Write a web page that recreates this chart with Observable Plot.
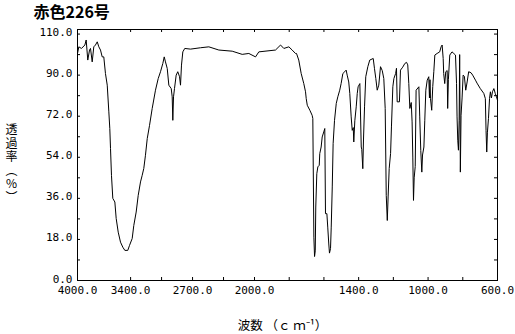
<!DOCTYPE html>
<html>
<head>
<meta charset="utf-8">
<script src="https://cdn.jsdelivr.net/npm/d3@7"></script>
<script src="https://cdn.jsdelivr.net/npm/@observablehq/plot@0.6"></script>
<style>
  html, body { margin: 0; padding: 0; background: #fff; }
  svg { display: block; }
</style>
</head>
<body>
<div id="chart"></div>
<script>
const title = "赤色226号";
const xTitle = "波数 （ｃ ｍ⁻¹）";
const yTitle = "透過率（%）";

const xTickValues = [4000, 3400, 2700, 2000, 1400, 1000, 600];
const xTickLabels = ["4000.0", "3400.0", "2700.0", "2000.0", "1400.0", "1000.0", "600.0"];
const xMinorTicks = [3400, 3050, 2700, 2350, 2000, 1800, 1600, 1400, 1200, 1000, 800];

const yTickValues = [0, 18, 36, 54, 72, 90, 108];
const yTickLabels = ["0.0", "18.0", "36.0", "54.0", "72.0", "90.0", "110.0"];
const yMinorTicks = [9, 18, 27, 36, 45, 54, 63, 72, 81, 90, 99, 108];

const wavenumber = [
  4000, 3985, 3955, 3917, 3902, 3884, 3864, 3853, 3834, 3816, 3797, 3777, 3759, 3740, 3721, 3703,
  3684, 3664, 3646, 3635, 3627, 3616, 3601, 3578, 3563, 3540, 3514, 3488, 3465, 3432, 3412, 3382,
  3364, 3337, 3314, 3288, 3269, 3251, 3232, 3212, 3186, 3156, 3119, 3088, 3062, 3036, 3020, 3006,
  2986, 2968, 2941, 2930, 2923, 2915, 2904, 2885, 2867, 2847, 2836, 2825, 2810, 2788, 2723, 2610,
  2516, 2403, 2252, 2139, 2064, 1994, 1975, 1879, 1850, 1831, 1802, 1783, 1764,
  1758, 1745, 1731, 1716, 1706, 1702, 1696, 1681, 1668, 1664, 1658, 1654, 1650, 1647, 1641, 1635,
  1627, 1624, 1616, 1610, 1601, 1595, 1591, 1583, 1578, 1572, 1568, 1562, 1558, 1552, 1547, 1539,
  1529, 1520, 1509, 1501, 1491, 1480, 1472, 1466, 1457, 1451, 1443, 1437, 1431, 1428, 1422, 1414,
  1408, 1403, 1393, 1385, 1382, 1376, 1372, 1366, 1359, 1347, 1336, 1316, 1309, 1301, 1293, 1284,
  1274, 1264, 1255, 1247, 1241, 1235, 1230, 1224, 1216, 1211, 1203, 1197, 1187, 1182, 1178, 1165,
  1159, 1146, 1134, 1124, 1117, 1111, 1105, 1097, 1092, 1088, 1084, 1080, 1074, 1069, 1053, 1048,
  1042, 1036, 1032, 1024, 1019, 1013, 1005, 996, 992, 989, 986, 979, 973, 967, 961, 948,
  933, 925, 919, 913, 910, 904, 898, 890, 887, 883, 875, 862, 852, 842, 836, 833,
  829, 825, 821, 818, 814, 810, 804, 798, 791, 783, 775, 766, 752, 743, 727, 718,
  699, 679, 670, 666, 662, 658, 652, 646, 641, 635, 629, 621, 613, 606, 600
];
const transmittance = [
  99.5, 102.4, 101.7, 103.2, 105.4, 96.6, 101, 101.7, 95.8, 102.4, 103.2, 104.6, 102.4, 101, 98, 98,
  90.7, 85.6, 73.9, 66.6, 57.9, 46.1, 36, 34.4, 27.2, 21.2, 16.8, 14.6, 13.2, 13.2, 15.4, 18.4,
  24.1, 30, 37.3, 43.2, 46.1, 49.1, 54.9, 62.2, 68, 75.4, 83.4, 88.5, 91.5, 95.1, 98, 95.8,
  92.9, 85.6, 84.1, 80.5, 70.2, 80.5, 84.1, 90, 91.5, 89.3, 85.6, 94.4, 100.2, 101.7, 101.4, 102,
  102.4, 101, 100.5, 99.1, 99.5, 98, 100.2, 101, 103.2, 101.7, 102.4, 101, 99.5,
  99.5, 96.6, 90.7, 86.3, 82.7, 79.7, 76.8, 74.6, 72.4, 71, 19, 10.5, 13, 32.2, 46.8, 49.8,
  50.5, 55.6, 58.5, 62.9, 65.1, 66.6, 29.3, 29.3, 23.4, 16, 12, 14, 23.4, 41, 60, 70.2,
  77.6, 80.5, 83.4, 86.3, 90.7, 91.5, 92.2, 90, 87, 82, 71.7, 65.8, 67, 60.7, 70, 76.1,
  82, 84.9, 86.3, 58.5, 57.5, 49, 62, 76.1, 89.3, 93.7, 96.6, 97.3, 93, 88.5, 83.4, 85.6,
  93.7, 92, 88.5, 75.4, 37.3, 26.3, 37, 49.1, 55.7, 67.3, 84.9, 88.5, 90.7, 93, 78.3, 78.3,
  92.2, 93.5, 95.1, 95.6, 94.5, 86.3, 75.4, 78, 69.5, 54.1, 35.1, 45, 50, 83.4, 84.9, 71.7,
  57, 47.5, 55, 58.5, 70, 83.4, 87.8, 89.3, 80, 88, 79.7, 74.6, 85, 91.5, 98.8, 99.5,
  100.2, 102.4, 103.2, 97.3, 90.7, 86.3, 91.5, 92, 75.4, 88, 98.8, 100.2, 99.5, 98.8, 86.3, 71.7,
  61.5, 57.1, 70, 99, 47.5, 72.4, 80, 90, 89.5, 83.4, 87, 91.5, 91, 90, 87.8, 86.5,
  84.1, 82, 79.7, 65.8, 56.3, 65, 71, 79.7, 82.7, 80, 82.7, 84.1, 82, 80.5, 79
];

// IR charts compress 4000–2000 cm⁻¹ relative to 2000–600 cm⁻¹ (two linear pieces)
const xPiece = d3.scaleLinear().domain([4000, 2000, 600]).range([0, 177, 420]);

const cjk = "'Noto Sans CJK JP', sans-serif";
const mono = "'DejaVu Sans Mono', monospace";

const chart = Plot.plot({
  width: 515,
  height: 334,
  marginLeft: 77,
  marginRight: 18,
  marginTop: 29,
  marginBottom: 54,
  style: {background: "#fff", color: "#000", fontFamily: mono, fontSize: "11px"},
  x: {type: "linear", transform: xPiece, domain: [0, 420]},
  y: {domain: [0, 110]},
  marks: [
    Plot.frame({stroke: "#000", strokeWidth: 1}),
    // inward ticks on all four sides
    Plot.tickY(yMinorTicks, {y: d => d, insetRight: 417, stroke: "#000"}),
    Plot.tickY(yMinorTicks, {y: d => d, insetLeft: 417, stroke: "#000"}),
    Plot.tickX(xMinorTicks, {x: d => d, insetTop: 248, stroke: "#000"}),
    Plot.tickX(xMinorTicks, {x: d => d, insetBottom: 248, stroke: "#000"}),
    Plot.axisX(xTickValues, {
      tickSize: 0, tickPadding: 6, label: null, fontSize: 11,
      tickFormat: d => xTickLabels[xTickValues.indexOf(d)]
    }),
    Plot.axisY(yTickValues, {
      tickSize: 0, tickPadding: 5, dy: -1.5, label: null, fontSize: 11,
      tickFormat: d => yTickLabels[yTickValues.indexOf(d)]
    }),
    Plot.line(transmittance, {x: wavenumber, y: transmittance, stroke: "#000", strokeWidth: 1}),
    // titles
    Plot.text([title], {frameAnchor: "top-left", dx: -44, dy: -16.5, textAnchor: "start", lineAnchor: "middle",
      fontFamily: cjk, fontSize: 16, fontWeight: "bold", fill: "#000"}),
    Plot.text([yTitle], {frameAnchor: "top-left", dx: -66, dy: 131, textAnchor: "middle", lineAnchor: "middle",
      fontFamily: cjk, fontSize: 12, fill: "#000"}),
    Plot.text([xTitle], {frameAnchor: "bottom", dx: -5, dy: 45, textAnchor: "middle", lineAnchor: "middle",
      fontFamily: cjk, fontSize: 12.5, fill: "#000"})
  ]
});

// set the y-axis title in vertical (tategaki) writing mode
d3.select(chart).selectAll("text")
  .filter(function() { return this.textContent === yTitle; })
  .attr("dy", null)
  .attr("writing-mode", "vertical-rl")
  .style("writing-mode", "vertical-rl")
  .style("text-orientation", "upright")
  .style("letter-spacing", "1.5px");

document.getElementById("chart").appendChild(chart);
</script>
</body>
</html>
